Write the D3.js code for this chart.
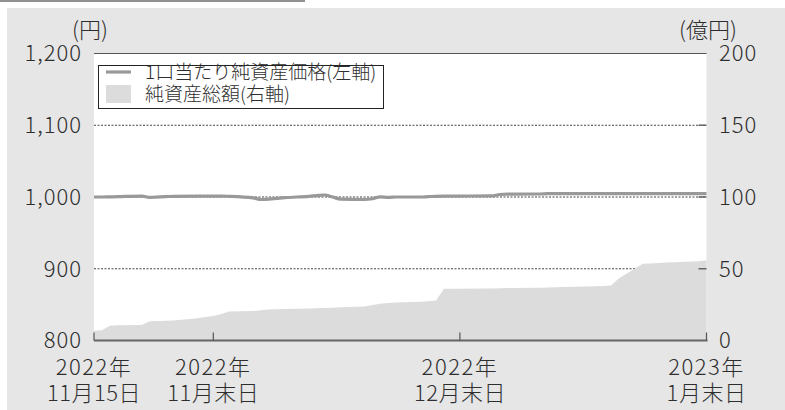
<!DOCTYPE html>
<html><head><meta charset="utf-8">
<script src="https://cdn.jsdelivr.net/npm/d3@7"></script>
<style>
html,body{margin:0;padding:0;background:#fff;}
svg{display:block;}
text{font-family:"Noto Sans CJK JP","Noto Sans",sans-serif;fill:#2e2e2e;font-weight:300;}
</style></head>
<body><svg id="c" width="785" height="410"></svg>
<script>
const dates = ["2022-11-15","2022-11-16","2022-11-17","2022-11-18","2022-11-21","2022-11-22","2022-11-24","2022-11-25","2022-11-28","2022-11-29","2022-11-30",
"2022-12-01","2022-12-02","2022-12-05","2022-12-06","2022-12-07","2022-12-08","2022-12-09","2022-12-12","2022-12-13","2022-12-14","2022-12-15","2022-12-16","2022-12-19","2022-12-20","2022-12-21","2022-12-22","2022-12-23","2022-12-26","2022-12-27","2022-12-28","2022-12-29","2022-12-30",
"2023-01-04","2023-01-05","2023-01-06","2023-01-10","2023-01-11","2023-01-12","2023-01-13","2023-01-16","2023-01-17","2023-01-18","2023-01-19","2023-01-20","2023-01-23","2023-01-24","2023-01-25","2023-01-26","2023-01-27","2023-01-30","2023-01-31"];
const navPerUnit = [1000.0,1000.0,1000.2,1000.5,1001.3,999.5,1000.5,1001.0,1001.2,1001.3,1001.3,
1001.3,1001.0,998.8,996.5,997.0,998.0,999.0,1001.0,1002.0,1002.8,1000.0,997.0,996.5,997.5,1000.3,999.5,1000.0,1000.0,1000.5,1001.0,1001.2,1001.3,
1001.5,1003.5,1004.0,1004.2,1004.6,1004.8,1004.8,1004.8,1004.8,1004.8,1004.8,1004.8,1004.8,1004.8,1004.8,1004.8,1004.8,1004.8,1004.8];
const totalNav = [6.8,7.2,10.2,10.7,10.8,13.4,13.7,13.9,15.5,16.4,17.0,
18.5,20.2,20.5,21.0,21.6,21.8,22.0,22.3,22.5,22.7,22.9,23.1,23.7,24.8,25.6,26.1,26.5,27.0,27.4,27.9,36.0,36.1,
36.3,36.4,36.5,36.7,36.9,37.1,37.3,37.6,37.8,38.0,38.3,43.4,53.4,53.6,54.0,54.3,54.6,55.2,56.0];
const leftTicks = [800,900,1000,1100,1200];
const rightTicks = [0,50,100,150,200];
const xTickDates = ["2022-11-15","2022-11-30","2022-12-31","2023-01-31"];
const xTickLine1 = ["2022年","2022年","2022年","2023年"];
const xTickLine2 = ["11月15日","11月末日","12月末日","1月末日"];
const legendLabels = ["1口当たり純資産価格(左軸)","純資産総額(右軸)"];
const unitLeft = "(円)", unitRight = "(億円)";

const parse = d3.timeParse("%Y-%m-%d");
const data = dates.map((d,i)=>({date:parse(d), nav:navPerUnit[i], total:totalNav[i]}));
const svg = d3.select("#c");
const L=94, R=706.5, T=53.5, B=340.5;
const x = d3.scaleTime().domain([parse("2022-11-15"), parse("2023-01-31")]).range([L,R]);
const yL = d3.scaleLinear().domain([800,1200]).range([B,T]);
const yR = d3.scaleLinear().domain([0,200]).range([B,T]);

// header rule and background
svg.append("line").attr("x1",0).attr("x2",305).attr("y1",1).attr("y2",1).attr("stroke","#6e6e6e").attr("stroke-width",1.6);
svg.append("rect").attr("x",7).attr("y",8).attr("width",778).attr("height",402).attr("fill","#e6e6e6");
svg.append("rect").attr("x",L).attr("y",T).attr("width",R-L).attr("height",B-T).attr("fill","#fff");

// gridlines
svg.append("g").selectAll("line").data(leftTicks.filter(v=>v>800&&v<1200)).join("line")
  .attr("x1",L).attr("x2",R).attr("y1",d=>yL(d)).attr("y2",d=>yL(d))
  .attr("stroke","#444").attr("stroke-width",1).attr("stroke-dasharray","2,1.5");

// area
const area = d3.area().x(d=>x(d.date)).y0(yR(0)).y1(d=>yR(d.total));
svg.append("path").datum(data).attr("d",area).attr("fill","#dcdcdc");

// right ticks inside
svg.append("g").selectAll("line").data(rightTicks.filter(v=>v>0&&v<200)).join("line")
  .attr("x1",R-8).attr("x2",R).attr("y1",d=>yR(d)).attr("y2",d=>yR(d))
  .attr("stroke","#666").attr("stroke-width",1.5);

// line
const line = d3.line().x(d=>x(d.date)).y(d=>yL(d.nav)).curve(d3.curveMonotoneX);
svg.append("path").datum(data).attr("d",line).attr("fill","none").attr("stroke","#999").attr("stroke-width",3.2);

// top border and bottom axis
svg.append("line").attr("x1",L).attr("x2",R).attr("y1",T).attr("y2",T).attr("stroke","#555").attr("stroke-width",1.2);
svg.append("line").attr("x1",L).attr("x2",R+1).attr("y1",B).attr("y2",B).attr("stroke","#666").attr("stroke-width",2);
svg.append("g").selectAll("line").data(xTickDates).join("line")
  .attr("x1",d=>x(parse(d))).attr("x2",d=>x(parse(d))).attr("y1",B-8).attr("y2",B)
  .attr("stroke","#555").attr("stroke-width",1.2);

// left tick labels
svg.append("g").selectAll("text").data(leftTicks).join("text")
  .attr("x",82).attr("y",d=>yL(d)).attr("dy","0.36em").attr("text-anchor","end")
  .attr("font-size",22).attr("letter-spacing",1).text(d=>d3.format(",")(d));
// right tick labels
svg.append("g").selectAll("text").data(rightTicks).join("text")
  .attr("x",719).attr("y",d=>yR(d)).attr("dy","0.36em").attr("text-anchor","start")
  .attr("font-size",22).attr("letter-spacing",1).text(d=>d);
// units
svg.append("text").attr("x",90).attr("y",38).attr("text-anchor","middle").attr("font-size",22).text(unitLeft);
svg.append("text").attr("x",708).attr("y",38).attr("text-anchor","middle").attr("font-size",22).text(unitRight);

// x labels (two lines in one text)
const xt = svg.append("g").selectAll("text").data(xTickDates).join("text")
  .attr("text-anchor","middle").attr("font-size",22);
xt.append("tspan").attr("x",d=>x(parse(d))).attr("y",375).attr("letter-spacing",1.5).text((d,i)=>xTickLine1[i]);
xt.append("tspan").attr("x",d=>x(parse(d))).attr("y",401).attr("letter-spacing",0.5).text((d,i)=>xTickLine2[i]);

// legend
svg.append("rect").attr("x",98.5).attr("y",65.5).attr("width",285).attr("height",43).attr("fill","#fff").attr("stroke","#222").attr("stroke-width",1);
svg.append("line").attr("x1",106).attr("x2",131).attr("y1",72).attr("y2",72).attr("stroke","#999").attr("stroke-width",3.2);
svg.append("rect").attr("x",106).attr("y",85).attr("width",25).attr("height",18).attr("fill","#dcdcdc");
svg.append("text").attr("x",145).attr("y",72).attr("dy","0.36em").attr("font-size",19).text(legendLabels[0]);
svg.append("text").attr("x",145).attr("y",94).attr("dy","0.36em").attr("font-size",19).text(legendLabels[1]);
</script></body></html>
